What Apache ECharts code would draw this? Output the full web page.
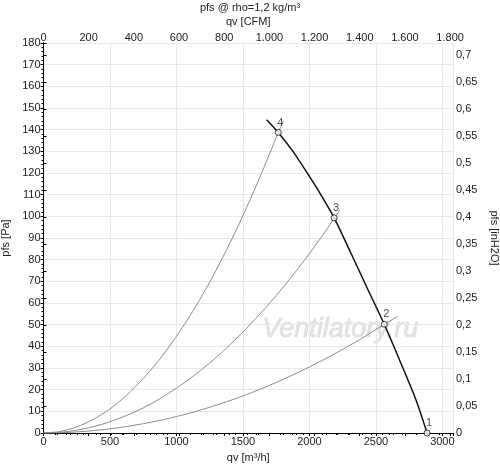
<!DOCTYPE html>
<html>
<head>
<meta charset="utf-8">
<script src="https://cdn.jsdelivr.net/npm/echarts@6/dist/echarts.min.js"></script>
<style>
  html, body { margin: 0; padding: 0; background: #fff; }
  #chart { width: 500px; height: 466px; }
</style>
</head>
<body>
<div id="chart"></div>
<script>
// fan curve, qv [m3/h] / pfs [Pa]
const fanQv = [1678, 1766, 1872, 1972, 2072, 2186, 2311, 2437, 2563, 2689, 2802, 2885];
const fanPfs = [144.6, 138.7, 130.3, 121.1, 111.4, 99.3, 83.2, 66.6, 50.2, 32.1, 15.2, 0];

// operating points 1..4
const pointNames = ['1', '2', '3', '4'];
const pointQv = [2885, 2563, 2186, 1766];
const pointPfs = [0, 50.2, 99.3, 138.7];

// system curves
const sysAQv = [0, 125, 250, 375, 500, 625, 750, 875, 1000, 1125, 1250, 1375, 1500, 1625, 1766, 1804];
const sysAPfs = [0, 0.7, 2.8, 6.3, 11.1, 17.4, 25.1, 34.1, 44.6, 56.4, 69.6, 84.3, 100.3, 117.7, 138.7, 144];
const sysBQv = [0, 125, 250, 375, 500, 625, 750, 875, 1000, 1125, 1250, 1375, 1500, 1625, 1750, 1875, 2000, 2125, 2186, 2231];
const sysBPfs = [0, 0.3, 1.3, 2.9, 5.2, 8.1, 11.6, 15.8, 20.7, 26.2, 32.3, 39.1, 46.6, 54.7, 63.4, 72.8, 82.8, 93.5, 99.3, 103];
const sysCQv = [0, 125, 250, 375, 500, 625, 750, 875, 1000, 1125, 1250, 1375, 1500, 1625, 1750, 1875, 2000, 2125, 2250, 2375, 2563, 2664];
const sysCPfs = [0, 0.1, 0.5, 1.1, 1.9, 3.0, 4.3, 5.8, 7.6, 9.6, 11.9, 14.4, 17.1, 20.1, 23.3, 26.8, 30.5, 34.4, 38.6, 43, 50.2, 53.8];

const qvMax = 3080;          // m3/h
const cfmPerM3h = 1 / 1.699;
const pfsMax = 180;          // Pa
const inH2OPerPa = 1 / 249.089;

const font = 'Liberation Sans';
const txt = '#222';

function zip(xs, ys) { return xs.map((x, i) => [x, ys[i]]); }

const chart = echarts.init(document.getElementById('chart'));

const curve = (xs, ys, color, width, z) => ({
  type: 'line', data: zip(xs, ys), smooth: 0.25,
  symbol: 'none', silent: true, z: z,
  lineStyle: { color: color, width: width }
});

chart.setOption({
  animation: false,
  textStyle: { fontFamily: font },
  title: {
    text: 'pfs @ rho=1,2 kg/m³',
    left: 'center', top: -3,
    textStyle: { fontSize: 11, fontWeight: 'normal', color: txt, fontFamily: font }
  },
  grid: { left: 43.5, right: 47, top: 43, bottom: 33, outerBoundsMode: 'none', containLabel: false },
  graphic: [{
    type: 'text', left: 262, top: 316, silent: true,
    style: {
      text: 'Ventilatory.ru', fontSize: 27, fontStyle: 'italic',
      fontFamily: font, fill: '#e2e2e2', stroke: '#d0d0d0', lineWidth: 0.6
    }
  }],
  xAxis: [{
    type: 'value', position: 'bottom', min: 0, max: qvMax, interval: 500,
    name: 'qv [m³/h]', nameLocation: 'middle', nameGap: 19,
    nameTextStyle: { fontSize: 11, color: txt },
    axisLine: { lineStyle: { color: '#000' } },
    axisTick: { length: 3, lineStyle: { color: '#000' } },
    minorTick: { show: true, splitNumber: 5, length: 2, lineStyle: { color: '#000' } },
    axisLabel: {
      margin: 3, fontSize: 11, color: txt,
      formatter: v => (v % 500 === 0 ? String(v) : '')
    },
    splitLine: { show: true, lineStyle: { color: '#e8e8e8' } }
  }, {
    type: 'value', position: 'top', min: 0, max: qvMax * cfmPerM3h, interval: 200,
    name: 'qv [CFM]', nameLocation: 'middle', nameGap: 14,
    nameTextStyle: { fontSize: 11, color: txt },
    axisLine: { lineStyle: { color: '#000' } },
    axisTick: { length: 3, inside: true, lineStyle: { color: '#000' } },
    minorTick: { show: true, splitNumber: 4, length: 2, lineStyle: { color: '#000' } },
    axisLabel: {
      margin: 0, fontSize: 11, color: txt,
      formatter: v => {
        if (Math.abs(v / 200 - Math.round(v / 200)) > 1e-6) return '';
        const r = Math.round(v);
        return r >= 1000 ? Math.floor(r / 1000) + '.' + String(r % 1000).padStart(3, '0') : String(r);
      }
    },
    splitLine: { show: false }
  }],
  yAxis: [{
    type: 'value', position: 'left', min: 0, max: pfsMax, interval: 10,
    name: 'pfs [Pa]', nameLocation: 'middle', nameGap: 25, nameRotate: 90,
    nameTextStyle: { fontSize: 11, color: txt },
    axisLine: { show: true, lineStyle: { color: '#000' } },
    axisTick: { show: true, length: 3, lineStyle: { color: '#000' } },
    minorTick: { show: true, splitNumber: 5, length: 2, lineStyle: { color: '#000' } },
    axisLabel: { margin: 3, fontSize: 11, color: txt },
    splitLine: { show: true, lineStyle: { color: '#e8e8e8' } }
  }, {
    type: 'value', position: 'right', min: 0, max: pfsMax * inH2OPerPa, interval: 0.05,
    name: 'pfs [inH2O]', nameLocation: 'middle', nameGap: 27, nameRotate: -90,
    nameTextStyle: { fontSize: 11, color: txt },
    axisLine: { show: true, lineStyle: { color: '#000' } },
    axisTick: { show: true, length: 3, lineStyle: { color: '#000' } },
    axisLabel: {
      margin: 3, fontSize: 11, color: txt,
      formatter: v => {
        if (Math.abs(v * 20 - Math.round(v * 20)) > 1e-6) return '';
        return String(Math.round(v * 100) / 100).replace('.', ',');
      }
    },
    splitLine: { show: false }
  }],
  series: [
    curve(sysAQv, sysAPfs, '#8a8a8a', 1, 2),
    curve(sysBQv, sysBPfs, '#8a8a8a', 1, 2),
    curve(sysCQv, sysCPfs, '#8a8a8a', 1, 2),
    curve(fanQv, fanPfs, '#111', 1.5, 3),
    {
      type: 'scatter', z: 4,
      data: pointNames.map((n, i) => ({ name: n, value: [pointQv[i], pointPfs[i]] })),
      symbol: 'circle', symbolSize: 6,
      itemStyle: { color: '#fff', borderColor: '#111', borderWidth: 1 },
      label: {
        show: true, position: 'top', distance: 1, offset: [2, 0],
        formatter: p => p.name, fontSize: 11, color: txt
      }
    }
  ]
});
</script>
</body>
</html>
